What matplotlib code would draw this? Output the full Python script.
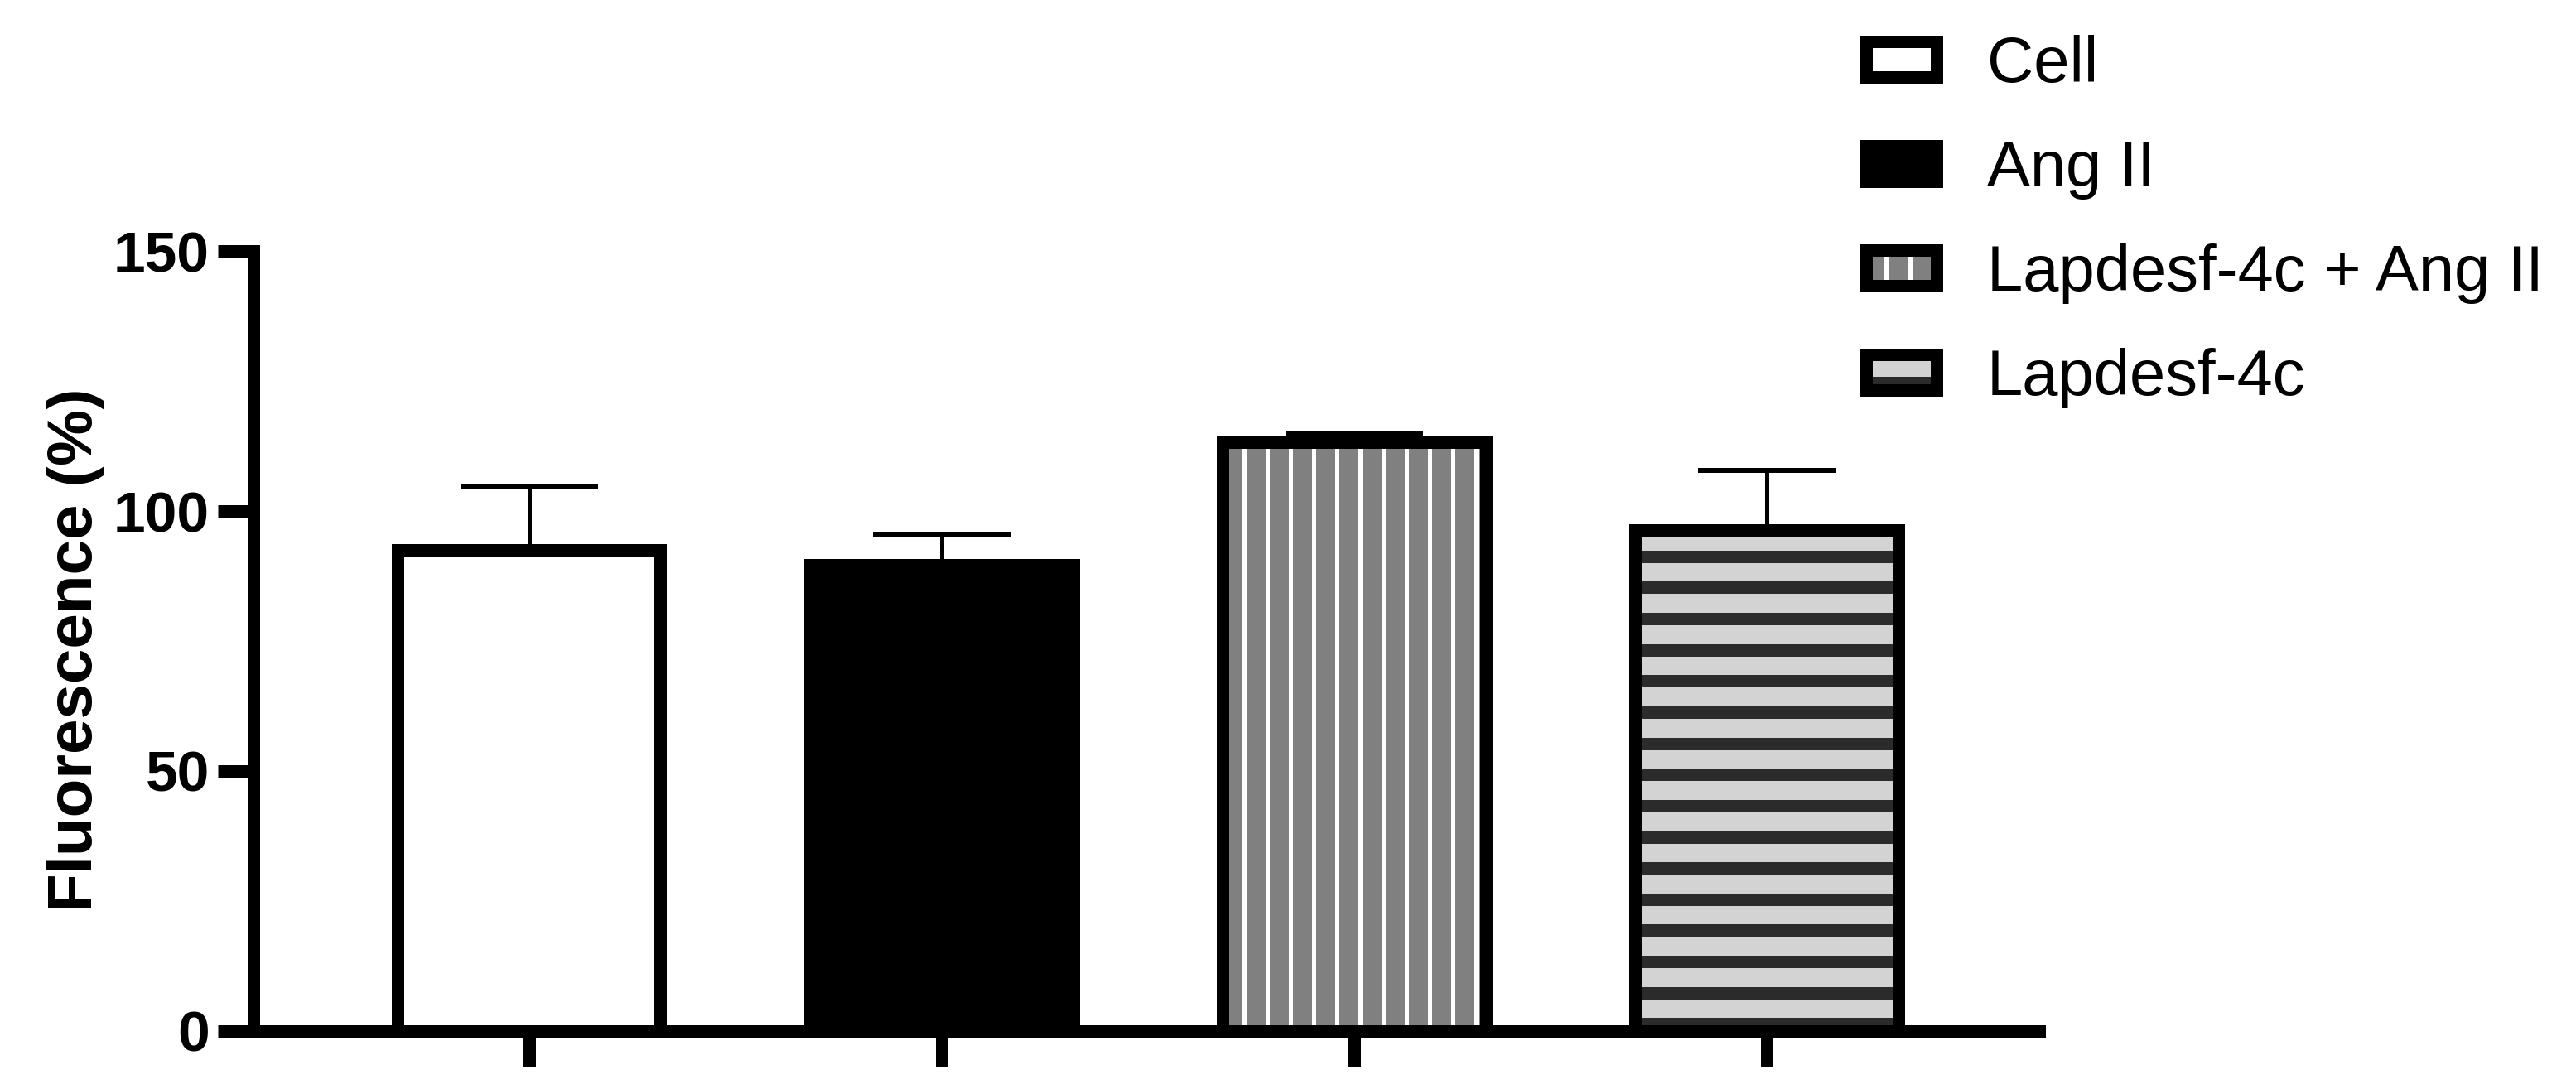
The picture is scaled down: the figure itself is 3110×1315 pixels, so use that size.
import numpy as np
import matplotlib
matplotlib.use('Agg')
import matplotlib.pyplot as plt
from matplotlib.patches import Rectangle
from matplotlib.lines import Line2D
from matplotlib.legend_handler import HandlerBase

# data
groups = ['Cell', 'Ang II', 'Lapdesf-4c + Ang II', 'Lapdesf-4c']
means = [92.5, 89.6, 113.2, 96.3]
errs = [12.2, 6.0, 1.7, 11.5]
yticks = [0, 50, 100, 150]

fills = ['white', 'black', '#808080', '#d3d3d3']
stripe_cols = [None, None, 'white', '#2b2b2b']
stripe_dirs = [None, None, 'v', 'h']

DPI = 100
PX = 72 / DPI  # points per pixel
BAR_W = 0.638
V_STEP = 0.0562   # vertical stripe spacing (x units)
H_STEP = 6.0      # horizontal stripe spacing (y units)

plt.rcParams['font.family'] = ['Liberation Sans', 'DejaVu Sans']


class StripeKey:
    def __init__(self, fill, scol, sdir):
        self.fill = fill
        self.scol = scol
        self.sdir = sdir


class StripeHandler(HandlerBase):
    def create_artists(self, legend, orig_handle, xdescent, ydescent,
                       width, height, fontsize, trans):
        x0, y0 = -xdescent, -ydescent
        arts = [Rectangle((x0, y0), width, height, facecolor=orig_handle.fill,
                          edgecolor='none', transform=trans)]
        if orig_handle.sdir == 'v':
            for f in (0.297, 0.622):
                arts.append(Line2D([x0 + f * width] * 2, [y0, y0 + height],
                                   color=orig_handle.scol, lw=6 * PX,
                                   solid_capstyle='butt', transform=trans))
        elif orig_handle.sdir == 'h':
            arts.append(Rectangle((x0, y0), width, 0.37 * height,
                                  facecolor=orig_handle.scol, edgecolor='none',
                                  transform=trans))
        arts.append(Rectangle((x0, y0), width, height, fill=False,
                              edgecolor='black', lw=15 * PX, transform=trans))
        return arts


fig = plt.figure(figsize=(31.1, 13.15), dpi=DPI)
ax = fig.add_axes([0.08698, 0.05361, 0.7045, 0.7156])

x = np.arange(len(groups))
bars = ax.bar(x, means, width=BAR_W, color=fills, edgecolor='none', zorder=2)

for i, patch in enumerate(bars.patches):
    if stripe_dirs[i] == 'v':
        xs = x[i] + 0.014 + V_STEP * np.arange(-8, 8)
        xs = xs[np.abs(xs - x[i]) < BAR_W / 2]
        lc = ax.vlines(xs, 0, means[i], colors=stripe_cols[i], lw=5 * PX, zorder=2.5)
        lc.set_clip_path(patch)
    elif stripe_dirs[i] == 'h':
        ys = np.arange(1.3, means[i], H_STEP)
        lc = ax.hlines(ys, x[i] - BAR_W / 2, x[i] + BAR_W / 2,
                       colors=stripe_cols[i], lw=15 * PX, zorder=2.5)
        lc.set_clip_path(patch)

ax.errorbar(x, means, yerr=[np.zeros(len(errs)), errs], fmt='none',
            ecolor='black', elinewidth=5 * PX, capsize=83 * PX,
            capthick=6 * PX, zorder=2.8)
ax.bar(x, means, width=BAR_W, fill=False, edgecolor='black',
       lw=15 * PX, zorder=3)

ax.set_xlim(-0.7385, 3.6583)
ax.set_ylim(0, 150)
ax.spines['top'].set_visible(False)
ax.spines['right'].set_visible(False)
ax.spines['left'].set_position(('data', -0.6672))
for s in ('left', 'bottom'):
    ax.spines[s].set_linewidth(15 * PX)

ax.set_yticks(yticks)
ax.set_xticks(x)
ax.set_xticklabels([])
ax.tick_params(axis='both', length=43 * PX, width=15 * PX, direction='out')
ax.tick_params(axis='y', labelsize=50, pad=10 * PX)
for lbl in ax.get_yticklabels():
    lbl.set_fontweight('bold')

ax.set_ylabel('Fluorescence (%)', fontsize=55, fontweight='bold')
ax.yaxis.set_label_coords(-0.0655, 0.488)

handles = [StripeKey(f, c, d) for f, c, d in zip(fills, stripe_cols, stripe_dirs)]
fig.legend(handles, groups, handler_map={StripeKey: StripeHandler()},
           loc='upper left', bbox_to_anchor=(2252.5 / 3110, 1 - 42.5 / 1315),
           frameon=False, fontsize=56, handlelength=1.105, handleheight=0.476,
           handletextpad=0.78, labelspacing=0.68, borderpad=0, borderaxespad=0)

fig.savefig('out.png', dpi=DPI)
